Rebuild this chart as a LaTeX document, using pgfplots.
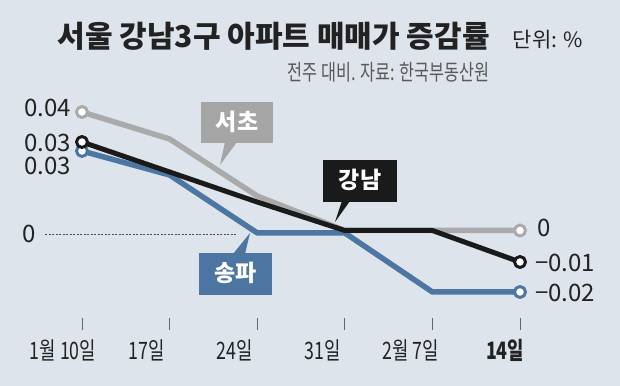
\documentclass[border=0pt]{standalone}
\usepackage{pgfplots}
\pgfplotsset{compat=1.18}
\usepackage{fontspec}
\setmainfont{Noto Sans CJK KR}
\newfontfamily\cond[FakeStretch=0.74]{Noto Sans CJK KR}
\definecolor{bg}{RGB}{222,228,235}
\definecolor{cgray}{RGB}{170,170,170}
\definecolor{cblack}{RGB}{26,26,26}
\definecolor{cblue}{RGB}{78,118,162}
\definecolor{boxgray}{RGB}{165,165,165}
\definecolor{boxblue}{RGB}{76,117,161}
\definecolor{txt}{RGB}{34,34,34}
\begin{document}
\begin{tikzpicture}
\fill[bg] (0,0) rectangle (620bp,386bp);
\begin{axis}[
  at={(0,0)}, anchor=south west,
  scale only axis, width=620bp, height=386bp,
  xmin=-0.93607, xmax=6.14155,
  ymin=-0.051333, ymax=0.077333,
  hide axis, clip=false,
]
\addplot[cgray, line width=5.5bp, line join=round, mark=*, mark indices={1,6},
  mark options={draw=cgray, fill=white, line width=3bp}, mark size=5.5bp]
  coordinates {(0,0.04) (1,0.031) (2,0.012) (3,0.0005) (4,0.0005) (5,0.0005)};
\addplot[cblue, line width=5.5bp, line join=round, mark=*, mark indices={1,6},
  mark options={draw=cblue, fill=white, line width=3bp}, mark size=5.5bp]
  coordinates {(0,0.027) (1,0.019) (2,-0.0003) (3,-0.0003) (4,-0.02) (5,-0.02)};
\addplot[cblack, line width=5bp, line join=round, mark=*, mark indices={1,6},
  mark options={draw=cblack, fill=white, line width=3bp}, mark size=5.5bp]
  coordinates {(0,0.03) (1,0.02) (2,0.01) (3,0.0005) (4,0.0005) (5,-0.01)};
\end{axis}
\begin{scope}[x=1bp,y=-1bp,yshift=386bp]
% title
\node[anchor=base east, inner sep=0, font=\bfseries\fontsize{30bp}{32bp}\selectfont, text=txt] at (490,48) {서울 강남3구 아파트 매매가 증감률};
\node[anchor=base east, inner sep=0, font=\fontsize{21bp}{23bp}\selectfont, text=txt] at (583,48) {단위: \%};
\node[anchor=base east, inner sep=0, font=\cond\fontsize{22bp}{24bp}\selectfont, text=black!65] at (490,81) {전주 대비. 자료: 한국부동산원};
% zero line
\draw[black!70, densely dashed, line width=0.8bp, dash pattern=on 2bp off 1.5bp] (45,234) -- (236,234);
% left labels
\begin{scope}[every node/.style={inner sep=0, font=\fontsize{24bp}{26bp}\selectfont, text=txt}]
\node[anchor=base east] at (71,117) {0.04};
\node[anchor=base east] at (71,152) {0.03};
\node[anchor=base east] at (71,175) {0.03};
\node[anchor=base east] at (36,243) {0};
\node[anchor=base west] at (537,237) {0};
\node[anchor=base west] at (535,272) {−0.01};
\node[anchor=base west] at (535,302) {−0.02};
\end{scope}
% boxes
\fill[boxgray] (201,102) rectangle (273,143);
\fill[boxgray] (225,142) -- (237,142) -- (220,165) -- cycle;
\node[text=white, font=\bfseries\fontsize{23bp}{25bp}\selectfont, inner sep=0] at (237,122) {서초};
\fill[cblack] (323,160) rectangle (397,202);
\fill[cblack] (342,201) -- (350,201) -- (335,222) -- cycle;
\node[text=white, font=\bfseries\fontsize{23bp}{25bp}\selectfont, inner sep=0] at (360,180) {강남};
\fill[boxblue] (199,253) rectangle (272,295);
\fill[boxblue] (233,254) -- (245,254) -- (250,233) -- cycle;
\node[text=white, font=\bfseries\fontsize{23bp}{25bp}\selectfont, inner sep=0] at (235.5,273) {송파};
% x ticks
\foreach \x in {82,169.6,257.2,344.8,432.4,520} \draw[black!60, line width=0.8bp] (\x,318) -- (\x,330);
\begin{scope}[every node/.style={inner sep=0, anchor=base, font=\cond\fontsize{24bp}{26bp}\selectfont, text=txt}]
\node at (63,360) {1월 10일};
\node at (147,360) {17일};
\node at (235,360) {24일};
\node at (323,360) {31일};
\node at (411,360) {2월 7일};
\node[font=\cond\bfseries\fontsize{24bp}{26bp}\selectfont] at (505,360) {14일};
\end{scope}
\end{scope}
\end{tikzpicture}
\end{document}
